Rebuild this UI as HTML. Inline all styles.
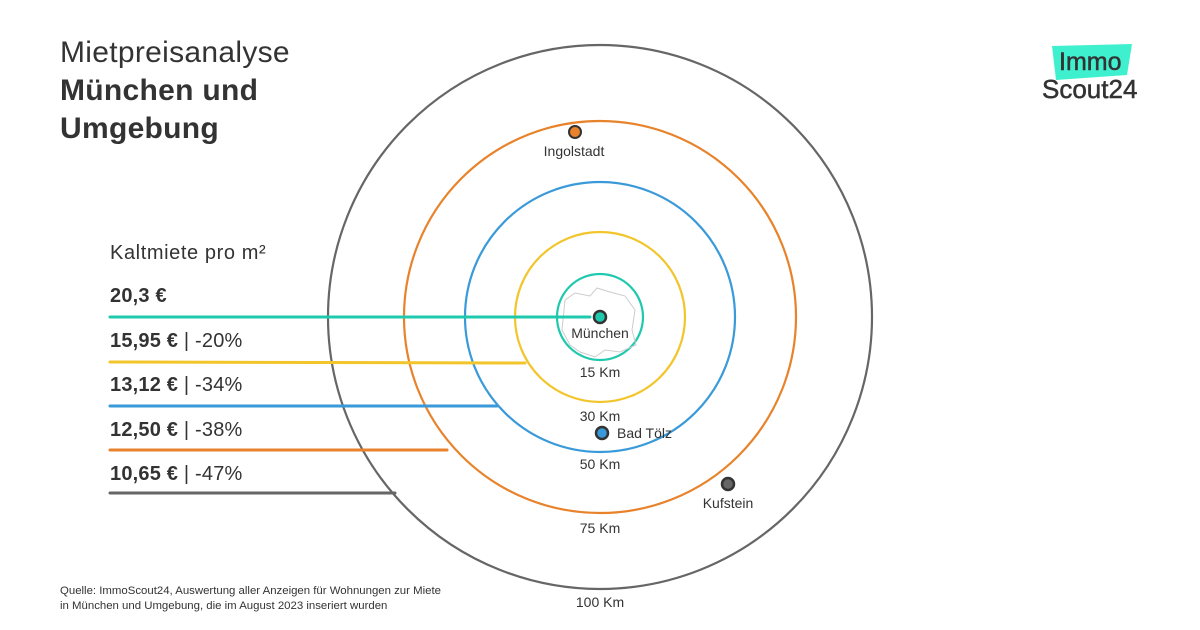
<!DOCTYPE html>
<html><head><meta charset="utf-8"><style>
body{margin:0;width:1200px;height:630px;background:#fff;overflow:hidden;font-family:"Liberation Sans",sans-serif;color:#333}
.l{position:absolute;left:110px;font-size:20px;letter-spacing:0.2px}
</style></head><body>
<svg width="1200" height="630" xmlns="http://www.w3.org/2000/svg" style="position:absolute;left:0;top:0">
<g fill="none" stroke-width="2.2">
<circle cx="600" cy="317" r="272" stroke="#666"/>
<circle cx="600" cy="317" r="196" stroke="#e8822b"/>
<circle cx="600" cy="317" r="135" stroke="#3a9ad9"/>
<circle cx="600" cy="317" r="85" stroke="#f2c52b"/>
<circle cx="600" cy="317" r="43" stroke="#1ec9ad"/>
</g>
<path d="M565 300 L575 293 L590 296 L597 288 L610 292 L625 296 L635 310 L632 330 L636 345 L620 352 L605 350 L595 357 L580 352 L570 345 L562 330 Z" fill="none" stroke="#ccc" stroke-width="1"/>
<g stroke-width="3" stroke-linecap="round">
<line x1="110" y1="317" x2="590" y2="317" stroke="#1ec9ad"/>
<line x1="110" y1="362" x2="525" y2="363" stroke="#f2c52b"/>
<line x1="110" y1="406" x2="497" y2="406" stroke="#3a9ad9"/>
<line x1="110" y1="450" x2="447" y2="450" stroke="#e8822b"/>
<line x1="110" y1="493" x2="395" y2="493" stroke="#666"/>
</g>
<circle cx="600" cy="317" r="6" fill="#1ec9ad" stroke="#333" stroke-width="2.5"/>
<circle cx="575" cy="132" r="6" fill="#e8822b" stroke="#333" stroke-width="2"/>
<circle cx="602" cy="433" r="6" fill="#3a9ad9" stroke="#333" stroke-width="2.5"/>
<circle cx="728" cy="484" r="6" fill="#666" stroke="#333" stroke-width="2.5"/>
<g font-family="Liberation Sans, sans-serif" font-size="14" fill="#333" text-anchor="middle">
<text x="600" y="338">München</text>
<text x="574" y="156">Ingolstadt</text>
<text x="600" y="377">15 Km</text>
<text x="600" y="421">30 Km</text>
<text x="600" y="469">50 Km</text>
<text x="600" y="533">75 Km</text>
<text x="600" y="607">100 Km</text>
<text x="728" y="508">Kufstein</text>
<text x="617" y="438" text-anchor="start">Bad Tölz</text>
</g>
<polygon points="1052,46 1132,44 1127,75 1056,80" fill="#3ff0cf"/>
<text x="1059" y="70" font-size="25" fill="#333" font-family="Liberation Sans, sans-serif" stroke="#333" stroke-width="0.5">Immo</text>
<text x="1042" y="98" font-size="26" fill="#333" font-family="Liberation Sans, sans-serif" stroke="#333" stroke-width="0.5">Scout24</text>
</svg>
<div style="position:absolute;left:60px;top:34px;font-size:30px;line-height:38px;letter-spacing:0.3px">Mietpreisanalyse<br><b>München und<br>Umgebung</b></div>
<div class="l" style="top:242px;letter-spacing:0.6px">Kaltmiete pro m²</div>
<div class="l" style="top:285px"><b>20,3 €</b></div>
<div class="l" style="top:330px"><b>15,95 €</b> | -20%</div>
<div class="l" style="top:374px"><b>13,12 €</b> | -34%</div>
<div class="l" style="top:419px"><b>12,50 €</b> | -38%</div>
<div class="l" style="top:463px"><b>10,65 €</b> | -47%</div>
<div style="position:absolute;left:60px;top:584px;font-size:11.4px;line-height:15px">Quelle: ImmoScout24, Auswertung aller Anzeigen für Wohnungen zur Miete<br>in München und Umgebung, die im August 2023 inseriert wurden</div>
</body></html>
